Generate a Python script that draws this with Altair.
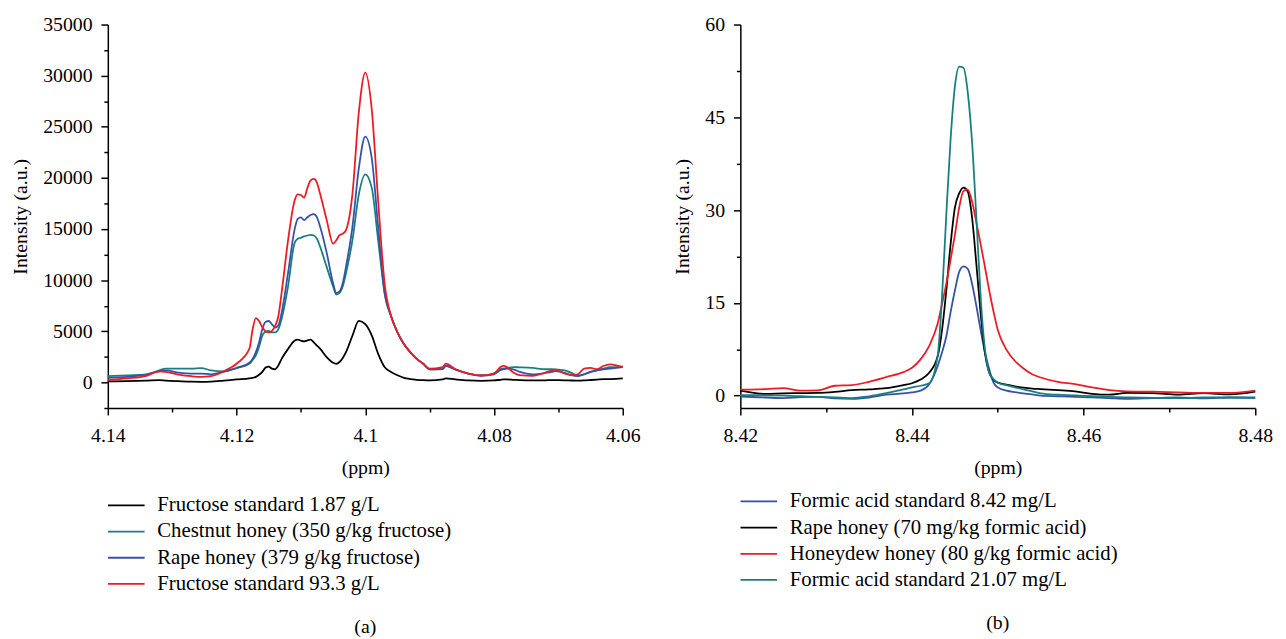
import altair as alt
import pandas as pd

FONT = "Liberation Serif"

# ---------------- Panel (a) data ----------------
ppm_a = [4.14, 4.137, 4.134, 4.132, 4.131, 4.129, 4.127, 4.1255, 4.124, 4.122, 4.12,
         4.118, 4.1175, 4.117, 4.1165, 4.116, 4.1155, 4.115, 4.1145, 4.114, 4.1135,
         4.113, 4.112, 4.111, 4.1105, 4.11, 4.1095, 4.109, 4.1085, 4.108, 4.1075,
         4.107, 4.106, 4.105, 4.1045, 4.104, 4.1035, 4.103, 4.102, 4.101, 4.1,
         4.099, 4.098, 4.097, 4.096, 4.095, 4.094, 4.093, 4.092, 4.091, 4.09,
         4.088, 4.0875, 4.086, 4.084, 4.082, 4.08, 4.079, 4.0785, 4.078, 4.077,
         4.076, 4.074, 4.072, 4.071, 4.0705, 4.069, 4.068, 4.067, 4.066, 4.065,
         4.064, 4.063, 4.062, 4.061, 4.06]

fructose_187 = [100, 130, 180, 225, 180, 120, 70, 60, 80, 180, 290, 390, 450, 550, 750,
                1030, 1450, 1540, 1350, 1290, 1670, 2300, 3280, 4080, 4180, 4080, 4020,
                4110, 4180, 3920, 3600, 3280, 2480, 1930, 1830, 2000, 2400, 2960, 4570,
                6020, 5700, 4600, 2800, 1510, 1030, 700, 450, 330, 260, 220, 200, 290,
                390, 300, 200, 160, 200, 260, 290, 290, 260, 230, 200, 210, 230, 225,
                210, 190, 180, 200, 240, 280, 320, 330, 350, 390]

chestnut = [610, 700, 800, 1190, 1350, 1350, 1350, 1410, 1190, 1090, 1410, 1830, 2200,
            2640, 3500, 4570, 4950, 5050, 4890, 4890, 5210, 6200, 9400, 13600, 14050,
            14150, 14280, 14370, 14440, 14370, 14050, 13250, 11300, 9400, 8600, 8750,
            9400, 10680, 13900, 18400, 20350, 19050, 13900, 8750, 6500, 4900, 3760,
            2950, 2300, 1830, 1290, 1300, 1610, 1290, 870, 680, 900, 1300, 1380, 1420,
            1500, 1480, 1420, 1290, 1290, 1280, 1190, 935, 710, 800, 1030, 1190, 1350,
            1500, 1500, 1580]

rape_a = [450, 550, 770, 1090, 1190, 960, 870, 870, 800, 1030, 1410, 1930, 2300, 2960,
          3900, 5210, 5920, 6010, 5690, 5370, 5600, 6800, 10700, 14900, 16000, 16150,
          15880, 16150, 16370, 16460, 16140, 15200, 12700, 9700, 8750, 8900, 9700,
          11300, 15200, 20950, 24050, 21950, 15200, 8750, 6500, 4900, 3760, 2950, 2300,
          1830, 1290, 1300, 1610, 1250, 870, 680, 800, 1190, 1300, 1350, 1290, 1030,
          800, 935, 1030, 1100, 935, 710, 610, 800, 1030, 1190, 1290, 1350, 1420, 1500]

fructose_933 = [225, 390, 640, 1090, 1030, 770, 610, 550, 610, 1090, 1830, 3300, 5200,
                6300, 6000, 5400, 5000, 4890, 5050, 5530, 6500, 8750, 13900, 17750, 18400,
                18330, 18070, 19000, 19750, 19900, 19520, 18400, 15900, 13570, 13900,
                14400, 14550, 14900, 18400, 26430, 30300, 26750, 17750, 9700, 6500, 4900,
                3760, 2950, 2300, 1830, 1350, 1500, 1840, 1290, 870, 680, 870, 1500, 1610,
                1500, 970, 710, 650, 970, 1190, 1260, 870, 710, 800, 1350, 1420, 1290,
                1610, 1770, 1680, 1500]

names_a = ["Fructose standard 1.87 g/L", "Chestnut honey (350 g/kg fructose)",
           "Rape honey (379 g/kg fructose)", "Fructose standard 93.3 g/L"]
colors_a = ["#000000", "#17807e", "#3552a6", "#ed1c24"]
series_a = [fructose_187, chestnut, rape_a, fructose_933]

# ---------------- Panel (b) data ----------------
ppm_b = [8.42, 8.423, 8.425, 8.427, 8.429, 8.431, 8.433, 8.435, 8.437, 8.439, 8.44,
         8.441, 8.442, 8.443, 8.4435, 8.444, 8.4445, 8.445, 8.4455, 8.446, 8.4465,
         8.447, 8.4475, 8.448, 8.4485, 8.449, 8.4495, 8.45, 8.451, 8.452, 8.453,
         8.454, 8.455, 8.457, 8.459, 8.461, 8.463, 8.465, 8.468, 8.471, 8.474,
         8.477, 8.48]

formic_842 = [-0.16, -0.3, -0.4, -0.25, -0.2, -0.45, -0.53, -0.3, 0.15, 0.35, 0.53, 0.8,
              1.86, 4.8, 7.0, 9.6, 13.5, 17.0, 20.0, 20.9, 20.5, 18.1, 14.5, 10.6, 7.0,
              4.26, 2.1, 1.33, 0.8, 0.55, 0.37, 0.2, 0.0, -0.1, -0.2, -0.27, -0.4, -0.53,
              -0.4, -0.27, -0.45, -0.3, -0.27]

rape_b = [0.8, 0.27, 0.37, 0.4, 0.43, 0.6, 0.9, 1.0, 1.2, 1.7, 2.0, 2.6, 3.7, 6.4, 10.6,
          17.0, 24.5, 30.4, 32.7, 33.65, 33.0, 28.8, 21.3, 13.3, 6.9, 3.7, 2.6, 2.1, 1.8,
          1.5, 1.3, 1.15, 1.06, 0.9, 0.7, 0.3, 0.16, 0.43, 0.4, 0.16, 0.4, 0.2, 0.64]

honeydew = [0.96, 1.06, 1.22, 0.8, 0.85, 1.6, 1.7, 2.24, 3.0, 3.8, 4.5, 5.86, 8.0, 11.7,
            14.8, 18.1, 22.0, 26.0, 30.4, 33.1, 33.3, 31.4, 28.0, 24.5, 20.8, 17.0, 13.6,
            10.6, 7.45, 5.6, 4.4, 3.46, 2.93, 2.24, 1.86, 1.33, 0.9, 0.7, 0.64, 0.53,
            0.43, 0.43, 0.8]

formic_2107 = [0.1, 0.05, 0.0, -0.1, -0.2, -0.3, -0.4, -0.1, 0.4, 1.0, 1.33, 1.6, 2.0,
               6.5, 16.0, 29.3, 41.5, 50.0, 53.2, 53.0, 49.0, 41.0, 28.8, 16.0, 7.5, 3.7,
               2.66, 2.1, 1.7, 1.33, 1.0, 0.7, 0.37, 0.15, 0.05, -0.1, -0.2, -0.27,
               -0.35, -0.4, -0.3, -0.3, -0.4]

names_b = ["Formic acid standard 8.42 mg/L", "Rape honey (70 mg/kg formic acid)",
           "Honeydew honey (80 g/kg formic acid)", "Formic acid standard 21.07 mg/L"]
colors_b = ["#3552a6", "#000000", "#ed1c24", "#17807e"]
series_b = [formic_842, rape_b, honeydew, formic_2107]

# axis tick positions (major + minor)
xticks_a = [4.06, 4.07, 4.08, 4.09, 4.1, 4.11, 4.12, 4.13, 4.14]
yticks_a = [-2500, 0, 2500, 5000, 7500, 10000, 12500, 15000, 17500, 20000, 22500,
            25000, 27500, 30000, 32500, 35000]
xticks_b = [8.42, 8.43, 8.44, 8.45, 8.46, 8.47, 8.48]
yticks_b = [0, 7.5, 15, 22.5, 30, 37.5, 45, 52.5, 60]


def long_df(ppm, names, series):
    rows = []
    for name, vals in zip(names, series):
        assert len(vals) == len(ppm), name
        for p, v in zip(ppm, vals):
            rows.append({"ppm": p, "intensity": v, "series": name})
    return pd.DataFrame(rows)


def axis(values, major_test, title, label_padding=9, tick_major=7, tick_minor=4, **kw):
    return alt.Axis(
        values=values,
        title=title,
        labelExpr=f"({major_test}) ? toString(datum.value) : ''",
        tickSize={"condition": {"test": major_test, "value": tick_major}, "value": tick_minor},
        grid=False,
        labelFont=FONT, labelFontSize=20, labelColor="#000000",
        titleFont=FONT, titleFontSize=20, titleFontWeight="normal", titleColor="#000000",
        domainColor="#000000", domainWidth=1.5, tickColor="#000000", tickWidth=1.5,
        labelPadding=label_padding, labelFlush=False, labelOverlap=False,
        **kw,
    )


def panel(df, names, colors, xdom, reverse, xticks, xtest, ydom, yticks, ytest,
          caption, legend_y):
    legend = alt.Legend(
        orient="none", legendX=-1, legendY=legend_y, title=None, direction="vertical",
        symbolType="M-1,0H2", symbolSize=610, symbolStrokeWidth=1.8,
        labelOffset=24, labelFont=FONT, labelFontSize=21, labelColor="#000000",
        labelLimit=600, rowPadding=2.5, padding=0,
    )
    return alt.Chart(df).mark_line(strokeWidth=1.8, interpolate="monotone").encode(
        x=alt.X("ppm:Q",
                scale=alt.Scale(domain=xdom, reverse=reverse, nice=False, zero=False),
                axis=axis(xticks, xtest, "(ppm)", label_padding=11, titlePadding=12)),
        y=alt.Y("intensity:Q",
                scale=alt.Scale(domain=ydom, nice=False, zero=False),
                axis=axis(yticks, ytest, "Intensity (a.u.)", titlePadding=12)),
        color=alt.Color("series:N", scale=alt.Scale(domain=names, range=colors),
                        sort=names, legend=legend),
    ).properties(
        width=521, height=388,
        title=alt.TitleParams(caption, orient="bottom", font=FONT, fontSize=20,
                              fontWeight="normal", color="#000000", anchor="middle",
                              frame="group", offset=24),
    )


df_a = long_df(ppm_a, names_a, series_a)
df_b = long_df(ppm_b, names_b, series_b)

chart_a = panel(df_a, names_a, colors_a, [4.06, 4.14], True, xticks_a,
                "round(datum.value*100) % 2 == 0", [-2500, 35000], yticks_a,
                "datum.value % 5000 == 0", "(a)", 473)
chart_b = panel(df_b, names_b, colors_b, [8.42, 8.48], False, xticks_b,
                "round(datum.value*100) % 2 == 0", [-2, 60], yticks_b,
                "datum.value % 15 == 0", "(b)", 469)

chart = alt.hconcat(chart_a, chart_b, spacing=33).resolve_scale(
    color="independent", x="independent", y="independent"
).resolve_legend(color="independent").configure_view(stroke=None).properties(
    padding={"left": 3, "top": 3, "right": 5, "bottom": 0}
)

chart.save("out.html", embed_options={"renderer": "svg", "actions": False})
